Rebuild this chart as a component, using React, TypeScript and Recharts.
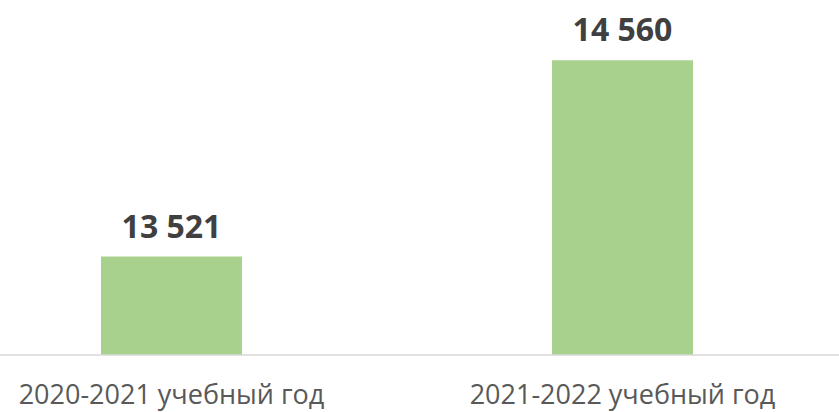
import React from "react";
import { BarChart, Bar, XAxis, YAxis, LabelList } from "recharts";

// ─── Data ──────────────────────────────────────────────────────────────────────

const years = ["2020-2021 учебный год", "2021-2022 учебный год"];
const students = [13521, 14560];
const yDomain = [13000, 14800];

const data = years.map((year, i) => ({ year, value: students[i] }));

const FONT = "'Open Sans', 'Noto Sans', sans-serif";

// thousands with a space, as in the original
const fmt = (v: number) => String(v).replace(/\B(?=(\d{3})+(?!\d))/g, " ");

function YearTick({ x, y, payload }: any) {
  return (
    <text x={x} y={y} dy={49} textAnchor="middle" fill="#595959" fontSize={27} fontFamily={FONT}>
      {payload.value}
    </text>
  );
}

export default function App() {
  return (
    <div style={{ position: "absolute", left: 0, top: 0, width: 839, height: 412, overflow: "hidden", background: "#fff" }}>
      <div style={{ marginLeft: -54 }}>
        <BarChart width={902} height={412} data={data} margin={{ top: 15, right: 0, bottom: 0, left: 0 }}>
          <XAxis
            dataKey="year"
            axisLine={{ stroke: "#d9d9d9", strokeWidth: 1.5 }}
            tickLine={false}
            tickSize={0}
            tickMargin={0}
            height={57}
            tick={<YearTick />}
          />
          <YAxis hide domain={yDomain} allowDataOverflow />
          <Bar dataKey="value" fill="#a9d18e" barSize={141} isAnimationActive={false}>
            <LabelList
              dataKey="value"
              position="top"
              offset={19}
              formatter={(v: any) => fmt(Number(v))}
              fill="#404040"
              fontSize={32}
              fontWeight="bold"
              fontFamily={FONT}
            />
          </Bar>
        </BarChart>
      </div>
    </div>
  );
}
